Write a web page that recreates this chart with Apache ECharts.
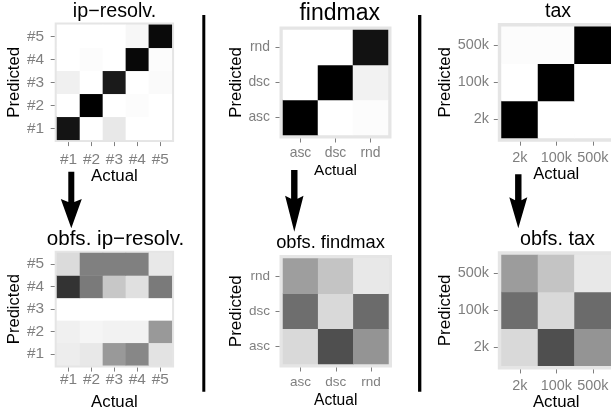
<!DOCTYPE html>
<html><head><meta charset="utf-8">
<script src="https://cdn.jsdelivr.net/npm/echarts@6/dist/echarts.min.js"></script>
<style>html,body{margin:0;padding:0;background:#fff}#c{width:611px;height:412px}</style>
</head><body><div id="c"></div>
<script>
// ---- data (rows = Predicted, bottom to top; columns = Actual, left to right) ----
const ipCategories = ['#1', '#2', '#3', '#4', '#5'];
const findmaxCategories = ['asc', 'dsc', 'rnd'];
const taxCategories = ['2k', '100k', '500k'];

const ipResolv = [
  [92, 0, 9, 0, 0],
  [0, 100, 0, 1, 0],
  [6, 0, 90, 0, 2],
  [0, 1, 0, 97, 1],
  [0, 0, 0, 3, 96]
];
const obfsIpResolv = [
  [7, 9, 40, 47, 11],
  [6, 4, 5, 5, 40],
  [0, 0, 0, 0, 0],
  [80, 52, 22, 12, 52],
  [14, 50, 50, 50, 9]
];
const findmax = [
  [100, 0, 1],
  [0, 100, 5],
  [0, 0, 93]
];
const obfsFindmax = [
  [15, 69, 42],
  [57, 15, 58],
  [38, 23, 9]
];
const tax = [
  [100, 0, 0],
  [0, 100, 0],
  [1, 1, 100]
];
const obfsTax = [
  [15, 69, 42],
  [57, 15, 58],
  [39, 23, 9]
];
const panelTitles = ['ip\u2212resolv.', 'obfs. ip\u2212resolv.', 'findmax', 'obfs. findmax', 'tax', 'obfs. tax'];
const xAxisTitle = 'Actual';
const yAxisTitle = 'Predicted';

const panels = [
  { cats: ipCategories, m: ipResolv },
  { cats: ipCategories, m: obfsIpResolv },
  { cats: findmaxCategories, m: findmax },
  { cats: findmaxCategories, m: obfsFindmax },
  { cats: taxCategories, m: tax },
  { cats: taxCategories, m: obfsTax }
];

// ---- layout (pixels) ----
const layouts = [
  { left: 57, top: 24.8, w: 114.8, h: 115, mg: 2.3, tf: 19.7, tx: 114.5, tb: 18.3, kf: 15.4, xlb: 165, ylr: 44, af: 16.9, ab: 181, pf: 16.8, pb: 27 },
  { left: 57, top: 253, w: 114.8, h: 114.7, mg: 2.3, tf: 20.6, tx: 115.5, tb: 246, kf: 15.4, xlb: 387.3, ylr: 44, af: 16.8, ab: 410.7, pf: 16.6, pb: 27 },
  { left: 283, top: 30, w: 105, h: 105, mg: 3.5, tf: 23, tx: 339.7, tb: 21.7, kf: 13.9, xlb: 158.3, ylr: 270, af: 15.4, ab: 176, pf: 16.7, pb: 241.7 },
  { left: 283, top: 258.5, w: 105.5, h: 105.5, mg: 3.5, tf: 18.3, tx: 330.5, tb: 250, kf: 13.5, xlb: 387, ylr: 270, af: 15.6, ab: 406, pf: 17, pb: 241.7 },
  { left: 501.5, top: 26.7, w: 112.5, h: 111.3, mg: 3.7, tf: 19.5, tx: 558, tb: 18.3, kf: 14.4, xlb: 163, ylr: 489, af: 16.6, ab: 180, pf: 16.7, pb: 452.7 },
  { left: 501.5, top: 255, w: 112.5, h: 111.7, mg: 3.7, tf: 19.8, tx: 557.5, tb: 246, kf: 14.4, xlb: 392.3, ylr: 489, af: 16.8, ab: 409, pf: 17, pb: 452.7 }
];

const FONT = '"Liberation Sans", Arial, Helvetica, sans-serif';
const GRAY = '#7F7F7F';

const grid = [], xAxis = [], yAxis = [], series = [], title = [];
panels.forEach((p, i) => {
  const L = layouts[i];
  const panelLeft = L.left - L.mg;
  const panelBottom = L.top + L.h + L.mg;
  grid.push({
    left: L.left, top: L.top, width: L.w, height: L.h,
    show: true, backgroundColor: 'transparent',
    borderColor: '#E5E5E5', borderWidth: 2 * L.mg
  });
  const tick = { show: true, alignWithLabel: true, length: 4, lineStyle: { color: GRAY, width: 1 } };
  xAxis.push({
    type: 'category', gridIndex: i, data: p.cats, position: 'bottom', offset: L.mg,
    axisLine: { show: false }, axisTick: tick, splitLine: { show: false },
    axisLabel: { interval: 0, fontSize: L.kf, color: GRAY, fontFamily: FONT, margin: L.xlb - 0.85 * L.kf - panelBottom },
    name: xAxisTitle, nameLocation: 'middle', nameGap: L.ab - 0.85 * L.af - panelBottom,
    nameTextStyle: { fontSize: L.af, color: '#000', fontFamily: FONT }
  });
  yAxis.push({
    type: 'category', gridIndex: i, data: p.cats, position: 'left', offset: L.mg,
    axisLine: { show: false }, axisTick: tick, splitLine: { show: false },
    axisLabel: { interval: 0, fontSize: L.kf, color: GRAY, fontFamily: FONT, margin: panelLeft - L.ylr },
    name: yAxisTitle, nameLocation: 'middle', nameGap: panelLeft - L.pb - 0.15 * L.pf - 4.5,
    nameTextStyle: { fontSize: L.pf, color: '#000', fontFamily: FONT }
  });
  const data = [];
  p.m.forEach((row, y) => row.forEach((v, x) => data.push([x, y, v])));
  series.push({
    type: 'heatmap', xAxisIndex: i, yAxisIndex: i, data,
    itemStyle: { borderWidth: 0 }, emphasis: { disabled: true }, progressive: 0
  });
  title.push({
    text: panelTitles[i], left: L.tx, top: L.tb - 0.85 * L.tf, padding: 0,
    textAlign: 'center', textVerticalAlign: 'top',
    textStyle: { fontSize: L.tf, fontWeight: 'normal', color: '#000', fontFamily: FONT }
  });
});

function arrow(cx, halfShaft, top, headY, halfHead, tip) {
  return {
    type: 'polygon', silent: true,
    shape: { points: [
      [cx - halfShaft, top], [cx + halfShaft, top], [cx + halfShaft, headY + 2],
      [cx + halfHead, headY - 1], [cx, tip], [cx - halfHead, headY - 1], [cx - halfShaft, headY + 2]
    ] },
    style: { fill: '#000' }
  };
}

const graphic = [
  { type: 'line', silent: true, shape: { x1: 203.8, y1: 15, x2: 203.8, y2: 391.7 }, style: { stroke: '#000', lineWidth: 3 } },
  { type: 'line', silent: true, shape: { x1: 419.7, y1: 15, x2: 419.7, y2: 391.7 }, style: { stroke: '#000', lineWidth: 3.3 } },
  arrow(71.3, 3, 171.7, 200, 10.5, 228.3),
  arrow(294.3, 3.2, 170, 196.7, 9.2, 231.7),
  arrow(518.3, 3.2, 174.3, 198.3, 9, 228.3)
];

const chart = echarts.init(document.getElementById('c'), null, { renderer: 'canvas' });
chart.setOption({
  animation: false,
  backgroundColor: '#fff',
  textStyle: { fontFamily: FONT },
  title, grid, xAxis, yAxis, series, graphic,
  visualMap: {
    type: 'continuous', show: false, min: 0, max: 100,
    seriesIndex: [0, 1, 2, 3, 4, 5],
    inRange: { color: ['#FFFFFF', '#000000'] }
  }
});
</script></body></html>
